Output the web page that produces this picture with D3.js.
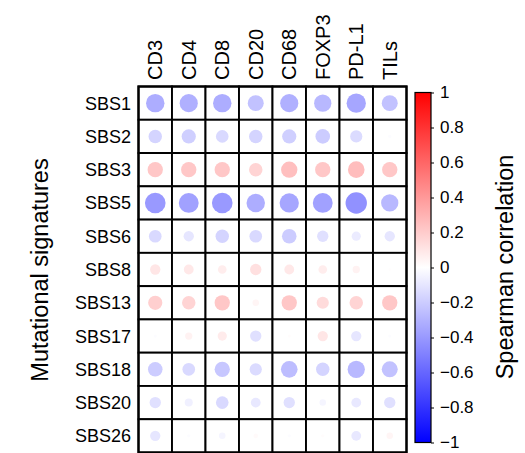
<!DOCTYPE html>
<html>
<head>
<meta charset="utf-8">
<script src="https://cdn.jsdelivr.net/npm/d3@7"></script>
<style>
  html, body { margin: 0; padding: 0; background: #fff; }
  svg { display: block; font-family: "Liberation Sans", Arial, Helvetica, sans-serif; }
</style>
</head>
<body>
<svg id="chart" width="525" height="453"></svg>
<script>
// Immune markers (columns) and mutational signatures (rows)
const markers = ["CD3", "CD4", "CD8", "CD20", "CD68", "FOXP3", "PD-L1", "TILs"];
const signatures = ["SBS1", "SBS2", "SBS3", "SBS5", "SBS6", "SBS8", "SBS13", "SBS17", "SBS18", "SBS20", "SBS26"];

// Spearman correlation of each signature with each marker (same order as markers)
const sbs1  = [-0.32, -0.31, -0.32, -0.24, -0.31, -0.28, -0.35, -0.24];
const sbs2  = [-0.17, -0.19, -0.15, -0.17, -0.19, -0.20, -0.14, -0.01];
const sbs3  = [ 0.22,  0.22,  0.22,  0.17,  0.25,  0.22,  0.26,  0.22];
const sbs5  = [-0.40, -0.37, -0.40, -0.32, -0.35, -0.37, -0.43, -0.28];
const sbs6  = [-0.15, -0.10, -0.17, -0.15, -0.20, -0.12, -0.08, -0.10];
const sbs8  = [ 0.10,  0.09,  0.07,  0.12,  0.09,  0.07,  0.05,  0.007];
const sbs13 = [ 0.19,  0.17,  0.22,  0.04,  0.22,  0.14,  0.17,  0.22];
const sbs17 = [-0.01,  0.05,  0.08, -0.12,  0.01,  0.10, -0.10, -0.01];
const sbs18 = [-0.20, -0.15, -0.22, -0.14, -0.26, -0.17, -0.28, -0.24];
const sbs20 = [-0.12, -0.06, -0.15, -0.09, -0.12, -0.04, -0.09, -0.12];
const sbs26 = [-0.10, -0.01, -0.04,  0.02, -0.01,  0.01, -0.09,  0.04];
const corrRows = [sbs1, sbs2, sbs3, sbs5, sbs6, sbs8, sbs13, sbs17, sbs18, sbs20, sbs26];

// Colour bar ticks
const barTicks = [-1, -0.8, -0.6, -0.4, -0.2, 0, 0.2, 0.4, 0.6, 0.8, 1];

const svg = d3.select("#chart");

const x = d3.scaleBand().domain(markers).range([138.5, 406.5]);
const y = d3.scaleBand().domain(signatures).range([86.5, 452.5]);
const cellMin = Math.min(x.bandwidth(), y.bandwidth());
const radius = d3.scaleSqrt().domain([0, 1]).range([0, 0.49 * cellMin]);
const color = d3.scaleLinear().domain([-1, 0, 1]).range(["#0000ff", "#ffffff", "#ff0000"]);

const cells = [];
signatures.forEach((s, i) => markers.forEach((m, j) => cells.push({ s, m, v: corrRows[i][j] })));

// Cell backgrounds and grid
const g = svg.append("g");
g.selectAll("rect.cell").data(cells).join("rect")
  .attr("class", "cell")
  .attr("x", d => x(d.m)).attr("y", d => y(d.s))
  .attr("width", x.bandwidth()).attr("height", y.bandwidth())
  .attr("fill", "#fff").attr("stroke", "#000").attr("stroke-width", 1.9);

// Circles: area proportional to |r|, colour by r
g.selectAll("circle").data(cells).join("circle")
  .attr("cx", d => x(d.m) + x.bandwidth() / 2)
  .attr("cy", d => y(d.s) + y.bandwidth() / 2)
  .attr("r", d => radius(Math.abs(d.v)))
  .attr("fill", d => color(d.v));

// Outer frame
g.append("rect")
  .attr("x", x.range()[0]).attr("y", y.range()[0])
  .attr("width", x.range()[1] - x.range()[0]).attr("height", y.range()[1] - y.range()[0])
  .attr("fill", "none").attr("stroke", "#000").attr("stroke-width", 2.2);

// Row labels
svg.append("g").selectAll("text").data(signatures).join("text")
  .attr("x", 131).attr("y", d => y(d) + y.bandwidth() / 2)
  .attr("dy", "0.36em").attr("text-anchor", "end")
  .attr("font-size", 18).text(d => d);

// Column labels (rotated)
svg.append("g").selectAll("text").data(markers).join("text")
  .attr("transform", d => `translate(${x(d) + x.bandwidth() / 2},80) rotate(-90)`)
  .attr("dy", "0.36em").attr("text-anchor", "start")
  .attr("font-size", 20).text(d => d);

// Axis title
svg.append("text")
  .attr("transform", "translate(40,270) rotate(-90)")
  .attr("text-anchor", "middle").attr("dy", "0.36em")
  .attr("font-size", 23.5).text("Mutational signatures");

// Colour bar
const barX = 415, barW = 16;
const cy = d3.scaleLinear().domain([-1, 1]).range([442.5, 92.5]);
const defs = svg.append("defs");
const grad = defs.append("linearGradient").attr("id", "corrGrad")
  .attr("x1", 0).attr("y1", 1).attr("x2", 0).attr("y2", 0);
[-1, 0, 1].forEach(v => grad.append("stop")
  .attr("offset", (v + 1) / 2).attr("stop-color", color(v)));
svg.append("rect")
  .attr("x", barX).attr("y", cy(1)).attr("width", barW).attr("height", cy(-1) - cy(1))
  .attr("fill", "url(#corrGrad)").attr("stroke", "#000").attr("stroke-width", 1.2);

const fmt = v => (v < 0 ? "\u2212" : "") + d3.format("")(Math.abs(+v.toFixed(1)));
const axis = d3.axisRight(cy).tickValues(barTicks).tickSize(3).tickPadding(6)
  .tickFormat(fmt);
const ax = svg.append("g").attr("transform", `translate(${barX + barW},0)`).call(axis);
ax.select(".domain").remove();
ax.selectAll("line").attr("stroke", "#000");
ax.selectAll("text").attr("font-size", 17).attr("fill", "#000")
  .style("font-family", "'Liberation Sans', Arial, sans-serif");

svg.append("text")
  .attr("transform", "translate(505,267) rotate(-90)")
  .attr("text-anchor", "middle").attr("dy", "0.36em")
  .attr("font-size", 23.5).text("Spearman correlation");
</script>
</body>
</html>
